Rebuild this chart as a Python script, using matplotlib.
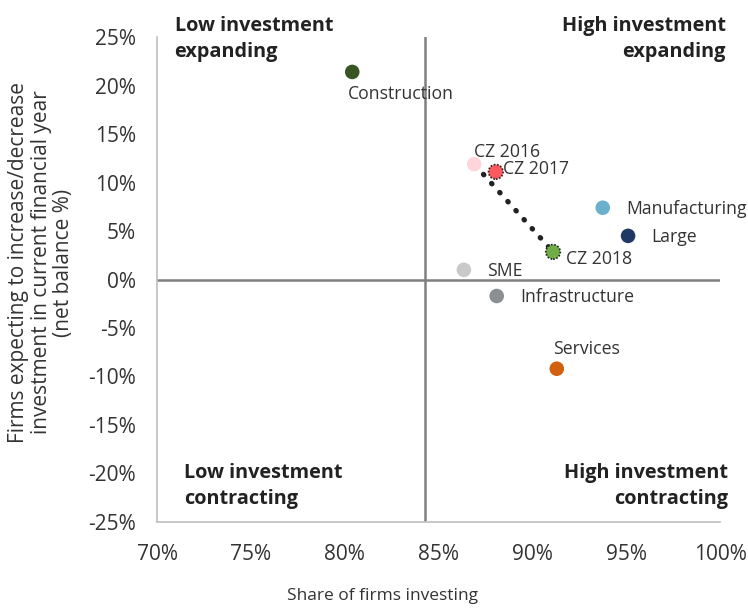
import matplotlib
matplotlib.use("Agg")
import matplotlib.pyplot as plt
from matplotlib.ticker import FuncFormatter

plt.rcParams['font.family'] = ['Open Sans', 'DejaVu Sans']

names = ["Construction", "CZ 2016", "CZ 2017", "CZ 2018", "Manufacturing",
         "Large", "SME", "Infrastructure", "Services"]
share = [80.4, 86.9, 88.05, 91.1, 93.75, 95.1, 86.35, 88.1, 91.3]
balance = [21.4, 11.9, 11.1, 2.85, 7.4, 4.5, 1.0, -1.7, -9.2]
colors = ["#375623", "#FFD5DA", "#FF5A5F", "#70AD47", "#6BB0CC",
          "#1F3864", "#C9C9C9", "#8B8F94", "#D2600F"]
dotted_edge = ["CZ 2017", "CZ 2018"]
# label offsets in points (dx, dy) and alignment
label_pos = {
    "Construction": (-3, -16, "left"),
    "CZ 2016": (0, 9, "left"),
    "CZ 2017": (5, 2, "left"),
    "CZ 2018": (9, -5, "left"),
    "Manufacturing": (17, -1, "left"),
    "Large": (17, -1, "left"),
    "SME": (17, -1, "left"),
    "Infrastructure": (17, -1, "left"),
    "Services": (-3, 14, "left"),
}
xticks = [70, 75, 80, 85, 90, 95, 100]
yticks = [-25, -20, -15, -10, -5, 0, 5, 10, 15, 20, 25]
x_cross = 84.3

fig = plt.figure(figsize=(7.48, 6.09), dpi=100)
ax = fig.add_axes([0.21, 0.1429, 0.7526, 0.7963])
ax.set_xlim(70, 100)
ax.set_ylim(-25, 25)

ax.axhline(0, color="#808080", lw=1.8, zorder=1)
ax.axvline(x_cross, color="#808080", lw=1.8, zorder=1)

# dotted trend CZ 2016 -> CZ 2018
i16, i18 = names.index("CZ 2016"), names.index("CZ 2018")
ax.annotate("", xy=(share[i18], balance[i18]), xytext=(share[i16], balance[i16]),
            arrowprops=dict(arrowstyle="-", linestyle=(0, (0.1, 2.2)), lw=3.8,
                            color="#222222", capstyle="round", shrinkA=10, shrinkB=4),
            zorder=2)

for n, x, y, c in zip(names, share, balance, colors):
    if n in dotted_edge:
        ax.scatter(x, y, s=110, color=c, edgecolors="#222222", linewidths=1.2,
                   linestyle=(0, (1, 1)), zorder=3)
    else:
        ax.scatter(x, y, s=110, color=c, edgecolors="none", zorder=3)
    dx, dy, ha = label_pos[n]
    ax.annotate(n, (x, y), xytext=(dx, dy), textcoords="offset points",
                ha=ha, va="center", fontsize=12.7, color="#333333", zorder=4)

ax.set_xticks(xticks)
ax.set_yticks(yticks)
ax.xaxis.set_major_formatter(FuncFormatter(lambda v, p: f"{v:.0f}%"))
ax.yaxis.set_major_formatter(FuncFormatter(lambda v, p: f"{v:.0f}%"))
ax.tick_params(axis="both", length=0, labelsize=15, colors="#333333")
ax.tick_params(axis="y", pad=15)
ax.tick_params(axis="x", pad=16)

for s in ["top", "right"]:
    ax.spines[s].set_visible(False)
for s in ["left", "bottom"]:
    ax.spines[s].set_color("#BFBFBF")
    ax.spines[s].set_linewidth(1.2)

ax.set_xlabel("Share of firms investing", fontsize=12.5, color="#333333")
ax.xaxis.set_label_coords(0.40, -0.137)
ax.set_ylabel("Firms expecting to increase/decrease\ninvestment in current financial year\n(net balance %)",
              fontsize=15, color="#333333", linespacing=1.1)
ax.yaxis.set_label_coords(-0.147, 0.535)

qkw = dict(fontsize=14.3, fontweight="bold", color="#222222", transform=ax.transAxes,
           clip_on=False, linespacing=1.4)
ax.text(0.031, 1.043, "Low investment\nexpanding", ha="left", va="top", **qkw)
ax.text(1.01, 1.043, "High investment\nexpanding", ha="right", va="top", **qkw)
ax.text(0.048, 0.121, "Low investment\ncontracting", ha="left", va="top", **qkw)
ax.text(1.015, 0.121, "High investment\ncontracting", ha="right", va="top", **qkw)

fig.savefig("out.png", dpi=100)
